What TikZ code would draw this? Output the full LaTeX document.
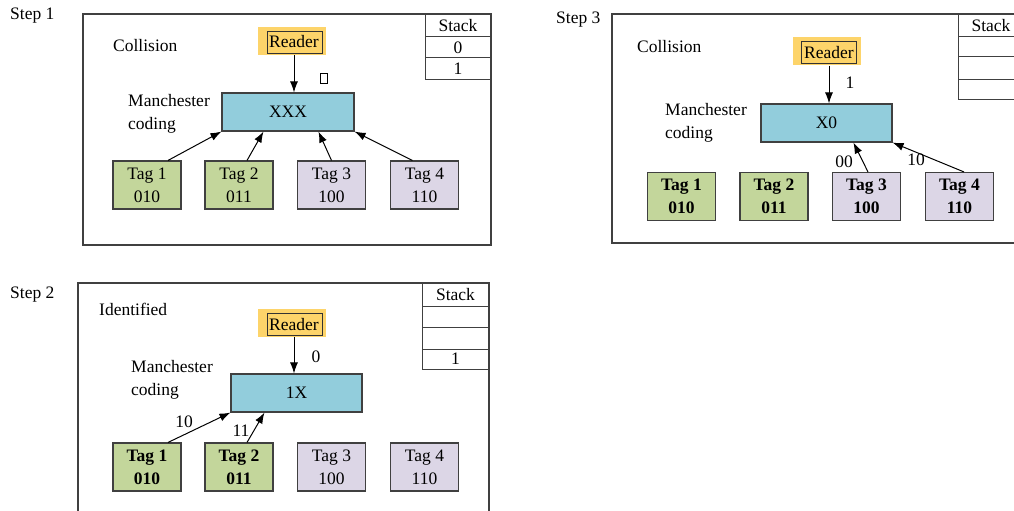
\documentclass[tikz,border=0pt]{standalone}
\usepackage{fontspec}
\setmainfont{Liberation Serif}
\usetikzlibrary{arrows.meta,calc}
\definecolor{tgreen}{HTML}{C3D69B}
\definecolor{tpurple}{HTML}{DCD6E6}
\definecolor{tblue}{HTML}{92CDDC}
\definecolor{tyellow}{HTML}{FDD46A}
\definecolor{edge}{HTML}{404040}
\tikzset{
  txt/.style={font=\fontsize{17.5}{23}\selectfont, inner sep=0pt},
  tagbox/.style={draw=edge, line width=1.1pt, minimum width=68pt, minimum height=48pt, inner sep=0pt, align=center, font=\fontsize{17.5}{23}\selectfont},
  greentag/.style={tagbox, fill=tgreen},
  purptag/.style={tagbox, fill=tpurple},
  boldtag/.style={font=\fontsize{17.5}{23}\selectfont\bfseries},
  codebox/.style={draw=edge, line width=1.1pt, fill=tblue, minimum width=132pt, minimum height=38pt, inner sep=0pt, font=\fontsize{17.5}{23}\selectfont},
  readerbg/.style={fill=tyellow, minimum width=68pt, minimum height=28pt, inner sep=0pt},
  readerin/.style={draw=black!80, line width=0.9pt, minimum width=55pt, minimum height=22pt, inner sep=0pt},
  cell/.style={draw=edge, line width=1pt, minimum width=66pt, inner sep=0pt, font=\fontsize{17.5}{23}\selectfont},
  frame/.style={draw=edge, line width=1.1pt},
  arr/.style={-{Latex[length=11pt,width=8pt]}, line width=1pt, black},
  mc/.style={txt, align=left, anchor=north west}
}
\begin{document}
\begin{tikzpicture}[x=1pt,y=-1pt]
\useasboundingbox (0,0) rectangle (1014,511);
\clip (0,0) rectangle (1014,511);
\fill[white] (0,0) rectangle (1014,511);

% ================= Step 1 =================
\node[txt, anchor=west] (s1) at (10,16) {Step 1};
\draw[frame] (83,14) rectangle (491,245);
\node[cell, minimum height=23pt] (st1a) at (458,25.5) {Stack};
\node[cell, minimum height=21pt] (st1b) at (458,47.5) {0};
\node[cell, minimum height=21pt] (st1c) at (458,68.5) {1};
\node[txt, anchor=west] (col1) at (113,46) {Collision};
\node[readerbg] (rb1) at (292,41) {};
\node[readerin] (r1) at (294.5,42) {};
\node[txt] (r1t) at (294,42) {Reader};
\node[draw=black, line width=1pt, minimum width=7pt, minimum height=10pt, inner sep=0pt] (glyph) at (324,78) {};
\node[codebox] (c1) at (288,112) {XXX};
\node[mc] (m1) at (128,94) {Manchester\\coding};
\node[greentag] (t11) at (147,185) {Tag 1\\010};
\node[greentag] (t12) at (239,185) {Tag 2\\011};
\node[purptag] (t13) at (331.5,185) {Tag 3\\100};
\node[purptag] (t14) at (424.5,185) {Tag 4\\110};
\draw[arr] (rb1.south -| r1t.south) -- (c1.north -| r1t.south);
\draw[arr] ($(t11.north)+(21,0)$) -- (c1.south west);
\draw[arr] ($(t12.north)+(8,0)$) -- ($(c1.south west)+(42,0)$);
\draw[arr] (t13.north) -- ($(c1.south west)+(97,0)$);
\draw[arr] ($(t14.north)+(-12,0)$) -- (c1.south east);

% ================= Step 3 =================
\node[txt, anchor=west] (s3) at (556,20) {Step 3};
\draw[frame] (612,14) rectangle (1030,243);
\node[cell, minimum height=22pt] (st3a) at (991,26) {Stack};
\node[cell, minimum height=20pt] (st3b) at (991,47) {};
\node[cell, minimum height=22pt] (st3c) at (991,68) {};
\node[cell, minimum height=20pt] (st3d) at (991,89) {};
\node[txt, anchor=west] (col3) at (637,47) {Collision};
\node[readerbg] (rb3) at (827,51.5) {};
\node[readerin] (r3) at (829,52.5) {};
\node[txt] (r3t) at (829,52.5) {Reader};
\node[codebox, minimum width=131pt] (c3) at (826.5,123) {X0};
\node[mc] (m3) at (665,103) {Manchester\\coding};
\node[greentag, boldtag] (t31) at (681.5,196.5) {Tag 1\\010};
\node[greentag, boldtag] (t32) at (774,196.5) {Tag 2\\011};
\node[purptag, boldtag] (t33) at (866.5,196.5) {Tag 3\\100};
\node[purptag, boldtag] (t34) at (959.5,196.5) {Tag 4\\110};
\draw[arr] (rb3.south -| r3t.south) -- (c3.north -| r3t.south) node[txt, pos=0.45, right=16pt] (l31) {1};
\draw[arr] ($(t33.north)+(1.5,0)$) -- ($(c3.south west)+(93,0)$);
\draw[arr] ($(t34.north)+(4.5,0)$) -- (c3.south east);
\node[txt] (l33) at (844,162) {00};
\node[txt] (l34) at (916,160) {10};

% ================= Step 2 =================
\node[txt, anchor=west] (s2) at (10,295) {Step 2};
\draw[frame] (78,283) rectangle (489,530);
\node[cell, minimum height=23pt] (st2a) at (455.5,294.5) {Stack};
\node[cell, minimum height=21pt] (st2b) at (455.5,316.5) {};
\node[cell, minimum height=22pt] (st2c) at (455.5,338) {};
\node[cell, minimum height=20pt] (st2d) at (455.5,359) {1};
\node[txt, anchor=west] (id2) at (99,309) {Identified};
\node[readerbg] (rb2) at (292,322.5) {};
\node[readerin] (r2) at (294.5,324) {};
\node[txt] (r2t) at (294,324.5) {Reader};
\node[codebox, minimum width=131pt] (c2) at (296.5,393) {1X};
\node[mc] (m2) at (131,360) {Manchester\\coding};
\node[greentag, boldtag] (t21) at (147,467) {Tag 1\\010};
\node[greentag, boldtag] (t22) at (239,467) {Tag 2\\011};
\node[purptag] (t23) at (331.5,467) {Tag 3\\100};
\node[purptag] (t24) at (424.5,467) {Tag 4\\110};
\draw[arr] (rb2.south -| r2t.south) -- (c2.north -| r2t.south) node[txt, pos=0.55, right=17pt] (l20) {0};
\draw[arr] ($(t21.north)+(21,0)$) -- (c2.south west);
\draw[arr] ($(t22.north)+(8,0)$) -- ($(c2.south west)+(34,0)$);
\node[txt] (l21) at (184,422) {10};
\node[txt] (l22) at (241,431) {11};
\end{tikzpicture}
\end{document}
